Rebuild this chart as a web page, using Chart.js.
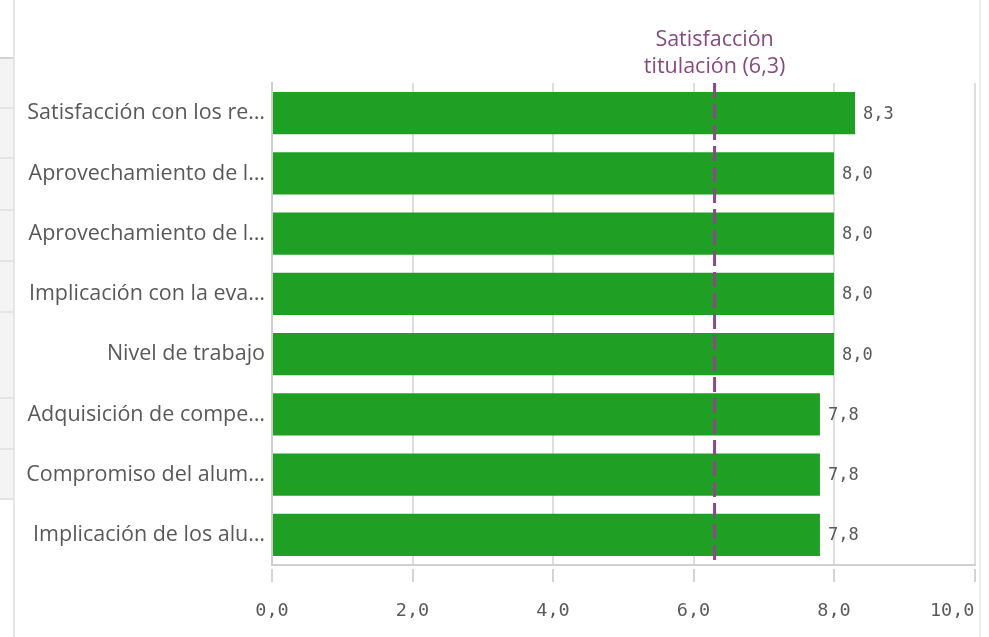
<!DOCTYPE html>
<html lang="es">
<head>
<meta charset="utf-8">
<title>Satisfacción por ítem</title>
<script src="https://cdn.jsdelivr.net/npm/chart.js@4/dist/chart.umd.min.js"></script>
<style>
  html, body { margin: 0; padding: 0; background: #ffffff; }
  #wrap { position: relative; width: 989px; height: 637px; overflow: hidden; background: #ffffff; }
  /* neighbouring panel on the left and the sheet divider on the right */
  .list { position: absolute; left: 0; top: 57px; width: 13px; height: 442px; background: #f4f4f4; border-top: 2px solid #d2d2d2; box-sizing: border-box; }
  .row { position: absolute; left: 0; width: 13px; height: 0; border-top: 2px solid #e4e4e4; }
  .vline-left { position: absolute; left: 13px; top: 0; width: 2px; height: 637px; background: #e6e6e6; }
  .vline-right { position: absolute; left: 979px; top: 0; width: 2px; height: 637px; background: #ececec; }
  canvas { position: absolute; left: 0; top: 0; }
</style>
</head>
<body>
<div id="wrap">
  <div class="list"></div>
  <div class="row" style="top:107px"></div>
  <div class="row" style="top:157px"></div>
  <div class="row" style="top:209px"></div>
  <div class="row" style="top:260px"></div>
  <div class="row" style="top:311px"></div>
  <div class="row" style="top:397px"></div>
  <div class="row" style="top:448px"></div>
  <div class="row" style="top:498px"></div>
  <div class="vline-left"></div>
  <div class="vline-right"></div>
  <canvas id="chart" width="989" height="637"></canvas>
</div>
<script>
// Items (shown truncated, as in the dashboard)
const categories = [
  "Satisfacción con los re…",
  "Aprovechamiento de l…",
  "Aprovechamiento de l…",
  "Implicación con la eva…",
  "Nivel de trabajo",
  "Adquisición de compe…",
  "Compromiso del alum…",
  "Implicación de los alu…"
];

// Average score per item (0–10)
const scores = [8.3, 8.0, 8.0, 8.0, 8.0, 7.8, 7.8, 7.8];

// Axis ticks
const xTicks = [0, 2, 4, 6, 8, 10];

// Reference line: overall degree satisfaction
const refValue = 6.3;
const refLabel = ["Satisfacción", "titulación"];

const fmt = v => v.toFixed(1).replace('.', ',');

const SANS = '"Open Sans", "Noto Sans", sans-serif';
const MONO = '"DejaVu Sans Mono", "Liberation Mono", monospace';

// Draws the value at the end of each bar
const valueLabels = {
  id: 'valueLabels',
  afterDatasetsDraw(chart) {
    const ctx = chart.ctx;
    const meta = chart.getDatasetMeta(0);
    ctx.save();
    ctx.font = '17px ' + MONO;
    ctx.fillStyle = '#595959';
    ctx.textAlign = 'left';
    ctx.textBaseline = 'middle';
    meta.data.forEach((bar, i) => {
      ctx.fillText(fmt(scores[i]), bar.x + 8, bar.y + 1);
    });
    ctx.restore();
  }
};

// Dashed vertical reference line with its caption above the plot
const refLine = {
  id: 'refLine',
  afterDatasetsDraw(chart) {
    const { ctx, chartArea, scales } = chart;
    const px = scales.x.getPixelForValue(refValue);
    ctx.save();
    ctx.strokeStyle = '#8a4a84';
    ctx.lineWidth = 3;
    ctx.setLineDash([15, 6]);
    ctx.beginPath();
    ctx.moveTo(px, chartArea.top);
    ctx.lineTo(px, chartArea.bottom);
    ctx.stroke();
    ctx.setLineDash([]);
    ctx.font = '21.5px ' + SANS;
    ctx.fillStyle = '#864a80';
    ctx.textAlign = 'center';
    ctx.textBaseline = 'middle';
    ctx.fillText(refLabel[0], px, chartArea.top - 43);
    ctx.fillText(refLabel[1] + ' (' + fmt(refValue) + ')', px, chartArea.top - 16);
    ctx.restore();
  }
};

function build() {
  new Chart(document.getElementById('chart'), {
    type: 'bar',
    data: {
      labels: categories,
      datasets: [{
        data: scores,
        backgroundColor: '#1fa024',
        borderWidth: 0,
        barPercentage: 0.7,
        categoryPercentage: 1.0
      }]
    },
    options: {
      indexAxis: 'y',
      responsive: false,
      devicePixelRatio: 1,
      animation: false,
      layout: { padding: { top: 83, right: 14.5, left: 0, bottom: 0 } },
      plugins: {
        legend: { display: false },
        tooltip: { enabled: false }
      },
      scales: {
        x: {
          type: 'linear',
          min: 0,
          max: 10,
          afterBuildTicks: s => { s.ticks = xTicks.map(v => ({ value: v })); },
          afterFit: s => { s.height = 72; s.paddingLeft = 0; s.paddingRight = 0; },
          grid: {
            color: '#dedede',
            lineWidth: 2,
            drawTicks: true,
            tickLength: 17,
            tickColor: '#d4d4d4',
            tickWidth: 2,
            tickBorderDash: [0, 3, 14, 100]
          },
          border: { display: true, color: '#d0d0d0', width: 2 },
          ticks: {
            padding: 18,
            color: '#5a5a5a',
            font: { family: MONO, size: 18.5 },
            maxRotation: 0,
            autoSkip: false,
            callback: (v, i, t) => {
              const s = fmt(v);
              // last label sits inside the plot's right edge
              return i === t.length - 1 ? s + ' '.repeat(s.length) : s;
            }
          }
        },
        y: {
          afterFit: s => { s.width = 272; },
          grid: { display: false, drawTicks: false },
          border: { display: true, color: '#cdcdcd', width: 2, z: 1 },
          ticks: {
            padding: 7,
            color: '#595959',
            font: { family: SANS, size: 21.5 },
            autoSkip: false
          }
        }
      }
    },
    plugins: [valueLabels, refLine]
  });
}

Promise.all([
  document.fonts.load('21.5px "Open Sans"'),
  document.fonts.load('18px "DejaVu Sans Mono"')
]).then(build, build);
</script>
</body>
</html>
